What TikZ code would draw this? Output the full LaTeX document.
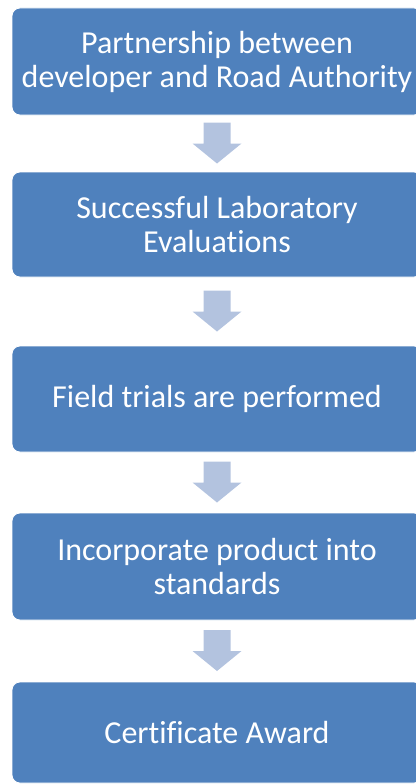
\documentclass[tikz,border=0pt]{standalone}
\usepackage{fontspec}
\setmainfont{Carlito}[Ligatures=NoCommon]
\usetikzlibrary{calc}
\definecolor{boxblue}{HTML}{4F81BD}
\definecolor{arrowblue}{HTML}{B3C3DF}
\tikzset{
  stepbox/.style={rectangle, rounded corners=8pt, fill=boxblue, draw=white, line width=0.8pt,
    minimum width=410pt, text=white, align=center, inner sep=0pt,
    font=\fontsize{32}{34}\selectfont},
  blockarrow/.style={fill=arrowblue, draw=none}
}
\newcommand{\downarrowshape}[2]{%
  \coordinate (m) at ($(#1.south)!0.5!(#2.north)$);
  \fill[blockarrow] ($(m)+(-13.5pt,21pt)$) -- ($(m)+(13.5pt,21pt)$) -- ($(m)+(13.5pt,0pt)$)
    -- ($(m)+(24.5pt,0pt)$) -- ($(m)+(0pt,-20pt)$) -- ($(m)+(-24.5pt,0pt)$)
    -- ($(m)+(-13.5pt,0pt)$) -- cycle;}
\begin{document}
\begin{tikzpicture}
\useasboundingbox (0pt,0pt) rectangle (415pt,-784pt);
\node[stepbox, minimum height=107pt] (b1) at (217pt,-61.5pt) {Partnership between\\developer and Road Authority};
\node[stepbox, minimum height=105pt] (b2) at (217pt,-224.5pt) {Successful Laboratory\\Evaluations};
\node[stepbox, minimum height=106pt] (b3) at (217pt,-399pt) {Field trials are performed};
\node[stepbox, minimum height=107pt] (b4) at (217pt,-566.5pt) {Incorporate product into\\standards};
\node[stepbox, minimum height=101pt] (b5) at (217pt,-732.5pt) {Certificate Award};
\downarrowshape{b1}{b2}
\downarrowshape{b2}{b3}
\downarrowshape{b3}{b4}
\downarrowshape{b4}{b5}
\end{tikzpicture}
\end{document}
